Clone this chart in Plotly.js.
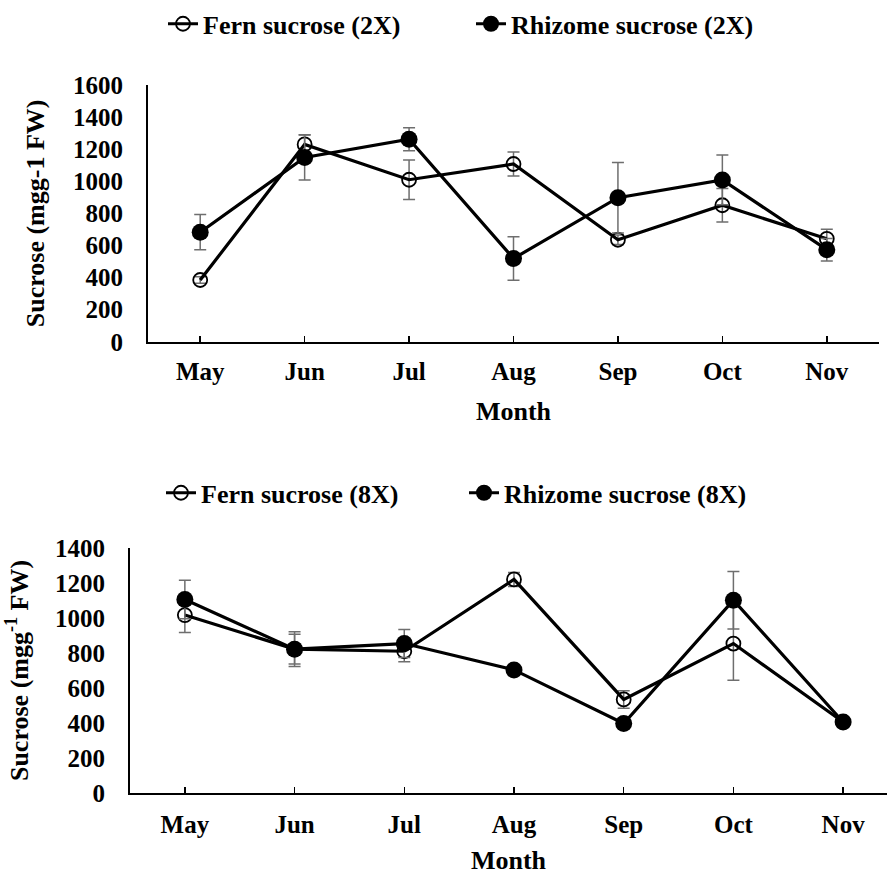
<!DOCTYPE html>
<html>
<head>
<meta charset="utf-8">
<script src="https://cdn.plot.ly/plotly-3.0.1.min.js"></script>
<style>html,body{margin:0;padding:0;background:#fff;}</style>
</head>
<body>
<div id="chart" style="width:887px;height:875px;"></div>
<script>
const months = ["May","Jun","Jul","Aug","Sep","Oct","Nov"];

// Top panel (2X)
const fern2x = [385, 1230, 1010, 1108, 636, 851, 642];
const fern2xErr = [20, 60, 123, 75, 30, 105, 60];
const rhizome2x = [683, 1149, 1262, 519, 898, 1009, 574];
const rhizome2xErr = [110, 140, 72, 135, 220, 155, 70];

// Bottom panel (8X)
const fern8x = [1017, 822, 810, 1221, 534, 854, 405];
const fern8xErr = [100, 85, 60, 40, 50, 210, 10];
const rhizome8x = [1106, 822, 854, 703, 396, 1102, 405];
const rhizome8xErr = [110, 100, 80, 10, 10, 165, 10];

const errStyle = (arr) => ({type:'data', array: arr, visible:true, color:'#6e6e6e', thickness:1.5, width:6});
const openMarker = {symbol:'circle', size:14, color:'rgba(0,0,0,0)', line:{color:'black', width:1.8}};
const fillMarker = {symbol:'circle', size:17, color:'black', line:{color:'black', width:0}};
const lineStyle = {color:'black', width:3.2};

const traces = [
  {x: months, y: fern2x, error_y: errStyle(fern2xErr), name:'Fern sucrose (2X)', mode:'lines+markers',
   line: lineStyle, marker: openMarker, xaxis:'x', yaxis:'y', legend:'legend'},
  {x: months, y: rhizome2x, error_y: errStyle(rhizome2xErr), name:'Rhizome sucrose (2X)', mode:'lines+markers',
   line: lineStyle, marker: fillMarker, xaxis:'x', yaxis:'y', legend:'legend'},
  {x: months, y: fern8x, error_y: errStyle(fern8xErr), name:'Fern sucrose (8X)', mode:'lines+markers',
   line: lineStyle, marker: openMarker, xaxis:'x2', yaxis:'y2', legend:'legend2'},
  {x: months, y: rhizome8x, error_y: errStyle(rhizome8xErr), name:'Rhizome sucrose (8X)', mode:'lines+markers',
   line: lineStyle, marker: fillMarker, xaxis:'x2', yaxis:'y2', legend:'legend2'}
];

const W = 887, H = 875;
const fam = '"Liberation Serif", "Times New Roman", serif';
const tickFont = {family:fam, size:25, color:'black', weight:'bold'};
const titleFont = {family:fam, size:26, color:'black', weight:'bold'};
const legFont = {family:fam, size:26, color:'black', weight:'bold'};
const xCommon = {type:'category', showline:true, linecolor:'black', linewidth:2, ticks:'inside', ticklen:6,
  tickwidth:1.5, tickcolor:'black', showgrid:false, zeroline:false, tickfont:tickFont, fixedrange:true};
const yCommon = {showline:true, linecolor:'black', linewidth:2, ticks:'', showgrid:false, zeroline:false,
  tickfont:tickFont, dtick:200, fixedrange:true, ticklabelstandoff:18};

const layout = {
  width:W, height:H, margin:{l:0,r:0,t:0,b:0}, paper_bgcolor:'white', plot_bgcolor:'white',
  font: titleFont, showlegend:true,
  xaxis: Object.assign({}, xCommon, {domain:[148/W, 879/W], range:[-0.5, 6.5], anchor:'y',
    ticklabelstandoff:6, title:{text:'Month', font:titleFont, standoff:18}}),
  yaxis: Object.assign({}, yCommon, {domain:[1-335/H, 1-75/H], range:[0,1600], anchor:'x',
    title:{text:'Sucrose (mgg-1 FW)', font:titleFont, standoff:21}}),
  xaxis2: Object.assign({}, xCommon, {domain:[130/W, 1], range:[-0.5, 6.4], anchor:'y2',
    ticklabelstandoff:8, title:{text:'Month', font:titleFont, standoff:14}}),
  yaxis2: Object.assign({}, yCommon, {domain:[1-791.7/H, 1-544/H], range:[0,1400], anchor:'x2',
    title:{text:'Sucrose (mgg<sup>-1</sup> FW)', font:titleFont, standoff:19}}),
  legend: {orientation:'h', x:163/W, xanchor:'left', y:1-13/H, yanchor:'middle', font:legFont,
    entrywidth:263, entrywidthmode:'pixels', itemwidth:30, tracegroupgap:0, bgcolor:'rgba(0,0,0,0)'},
  legend2: {orientation:'h', x:161/W, xanchor:'left', y:1-488/H, yanchor:'middle', font:legFont,
    entrywidth:258, entrywidthmode:'pixels', itemwidth:30, tracegroupgap:0, bgcolor:'rgba(0,0,0,0)'}
};

Plotly.newPlot('chart', traces, layout, {displayModeBar:false, staticPlot:true});
</script>
</body>
</html>
